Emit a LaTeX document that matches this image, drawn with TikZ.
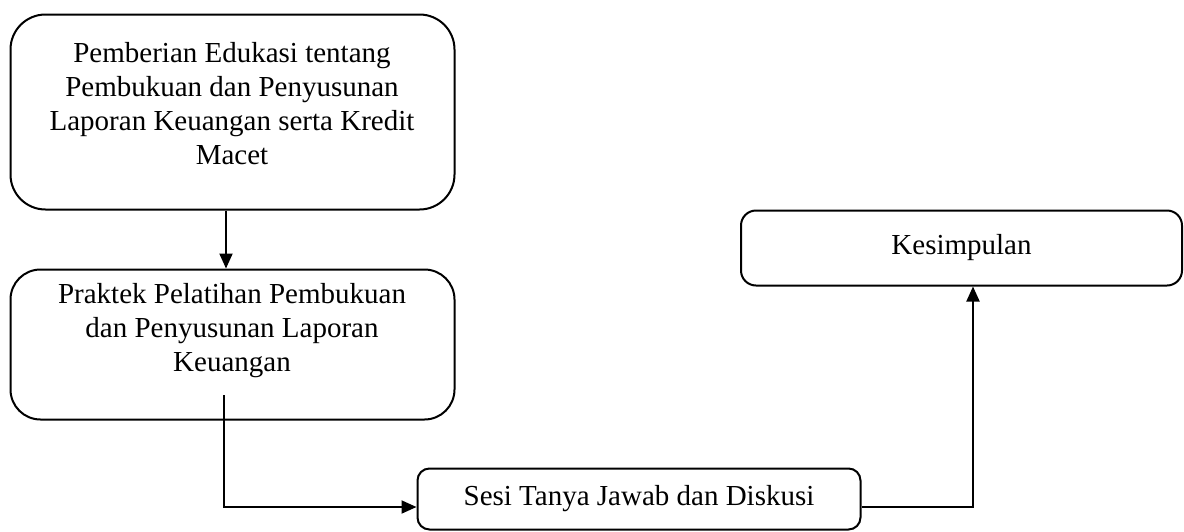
\documentclass[tikz,border=0pt]{standalone}
\usepackage{fontspec}
\setmainfont{Liberation Serif}
\usetikzlibrary{arrows.meta}
\begin{document}
\begin{tikzpicture}[x=1pt,y=-1pt,
  box/.style={draw, line width=2pt, rounded corners=#1, inner sep=0pt},
  txt/.style={align=center, font=\fontsize{29}{34}\selectfont, inner sep=0pt},
  flow/.style={line width=2pt, -{Triangle[length=15pt,width=13pt]}}]
\useasboundingbox (0,0) rectangle (1184,531);

% process boxes
\node[box=35pt, minimum width=444pt, minimum height=195pt] (b1) at (232.5,112) {};
\node[txt] (b1text) at (232,104) {Pemberian Edukasi tentang\\Pembukuan dan Penyusunan\\Laporan Keuangan serta Kredit\\Macet};

\node[box=30pt, minimum width=444pt, minimum height=150pt] (b2) at (232.5,344.5) {};
\node[txt] (b2text) at (232,331) {Praktek Pelatihan Pembukuan\\dan Penyusunan Laporan\\Keuangan};

\node[box=12pt, txt, minimum width=443pt, minimum height=61pt] (sesi) at (639,499) {Sesi Tanya Jawab dan Diskusi};

\node[box=15pt, txt, minimum width=441pt, minimum height=75pt] (kes) at (961.5,248) {Kesimpulan};

% connectors
\coordinate (c2) at (224,395);
\draw[flow] ([xshift=-6.5pt]b1.south) -- ([xshift=-6.5pt]b2.north);
\draw[flow] (c2) |- ([yshift=-8pt]sesi.west);
\draw[flow] ([yshift=-8pt]sesi.east) -| ([xshift=11.5pt]kes.south);
\end{tikzpicture}
\end{document}
